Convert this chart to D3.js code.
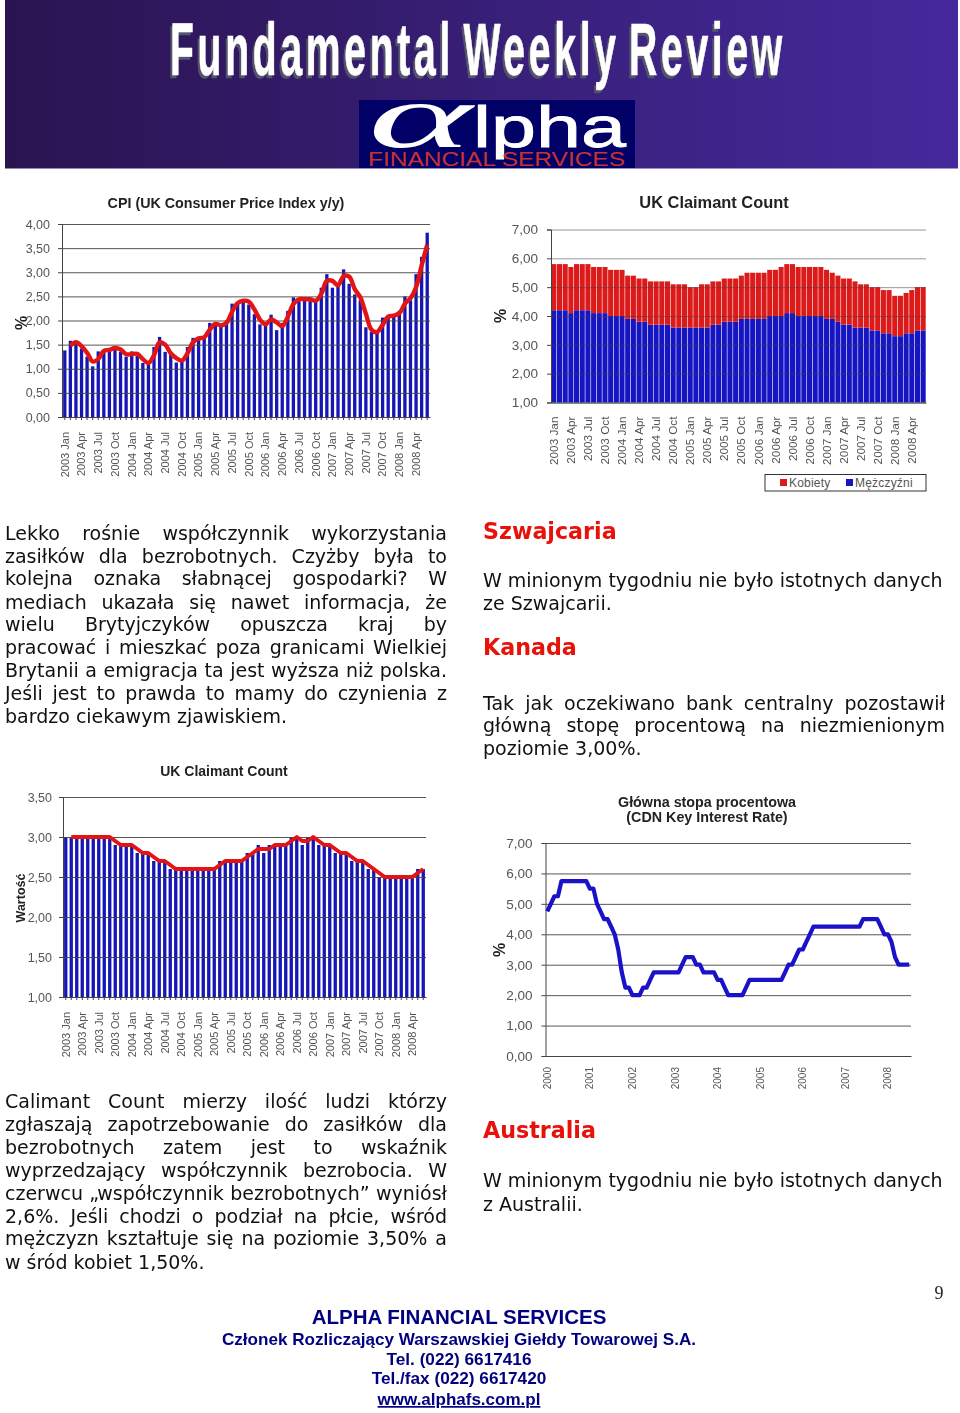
<!DOCTYPE html>
<html>
<head>
<meta charset="utf-8">
<script src="https://d3js.org/d3.v7.min.js"></script>
<style>
  body { margin: 0; background: #fff; }
  svg { display: block; }
  .tick text { font-family: "Liberation Sans", Arial, sans-serif; fill: #555; }
  .body-text { font-family: "DejaVu Sans", Verdana, sans-serif; font-size: 19px; fill: #111; }
  .heading { font-family: "DejaVu Sans", Verdana, sans-serif; font-size: 22.2px; font-weight: bold; fill: #e8120a; }
  .chart-title { font-family: "Liberation Sans", Arial, sans-serif; font-size: 14.3px; font-weight: bold; fill: #222; text-anchor: middle; }
  .axis-title { font-family: "Liberation Sans", Arial, sans-serif; font-size: 16px; font-weight: bold; fill: #222; text-anchor: middle; }
  .chart { filter: blur(0.5px); }
  .footer { font-family: "Liberation Sans", Arial, sans-serif; font-weight: bold; fill: #000080; text-anchor: middle; }
</style>
</head>
<body>
<div id="page"></div>
<script>
// Quarterly labels shared by the three monthly charts
const quarterLabels = ['2003 Jan','2003 Apr','2003 Jul','2003 Oct','2004 Jan','2004 Apr','2004 Jul','2004 Oct',
  '2005 Jan','2005 Apr','2005 Jul','2005 Oct','2006 Jan','2006 Apr','2006 Jul','2006 Oct',
  '2007 Jan','2007 Apr','2007 Jul','2007 Oct','2008 Jan','2008 Apr'];
const yearLabels = ['2000','2001','2002','2003','2004','2005','2006','2007','2008'];

// CPI y/y, bars and the red average line (line starts at the 2nd month)
const cpiBars = [1.38,1.58,1.52,1.42,1.25,1.05,1.36,1.38,1.40,1.46,1.35,1.25,
  1.36,1.27,1.12,1.12,1.45,1.66,1.35,1.30,1.13,1.20,1.45,1.64,
  1.62,1.67,1.95,1.90,1.90,2.00,2.35,2.38,2.44,2.33,2.13,1.92,
  1.92,2.12,1.80,1.95,2.20,2.48,2.40,2.48,2.40,2.42,2.68,2.96,
  2.68,2.78,3.06,2.76,2.54,2.42,1.86,1.76,1.76,2.06,2.10,2.10,
  2.20,2.50,2.42,2.96,3.32,3.82];
const cpiLine = [1.48,1.55,1.47,1.33,1.15,1.20,1.37,1.39,1.43,1.40,1.30,1.30,1.31,1.20,1.12,
  1.28,1.55,1.50,1.32,1.22,1.17,1.32,1.55,1.63,1.65,1.81,1.93,1.90,1.95,2.18,
  2.36,2.41,2.39,2.23,2.02,1.92,2.02,1.96,1.88,2.08,2.34,2.44,2.44,2.44,2.41,
  2.55,2.82,2.82,2.73,2.92,2.91,2.65,2.48,2.14,1.81,1.76,1.91,2.08,2.10,
  2.15,2.35,2.46,2.69,3.14,3.57];

// Claimant count by sex (stacked)
const menValues = [4.2,4.2,4.2,4.1,4.2,4.2,4.2,4.1,4.1,4.1,4.0,4.0,
  4.0,3.9,3.9,3.8,3.8,3.7,3.7,3.7,3.7,3.6,3.6,3.6,
  3.6,3.6,3.6,3.6,3.7,3.7,3.8,3.8,3.8,3.9,3.9,3.9,
  3.9,3.9,4.0,4.0,4.0,4.1,4.1,4.0,4.0,4.0,4.0,4.0,
  3.9,3.9,3.8,3.7,3.7,3.6,3.6,3.6,3.5,3.5,3.4,3.4,
  3.3,3.3,3.4,3.4,3.5,3.5];
const womenValues = [1.6,1.6,1.6,1.6,1.6,1.6,1.6,1.6,1.6,1.6,1.6,1.6,
  1.6,1.5,1.5,1.5,1.5,1.5,1.5,1.5,1.5,1.5,1.5,1.5,
  1.4,1.4,1.5,1.5,1.5,1.5,1.5,1.5,1.5,1.5,1.6,1.6,
  1.6,1.6,1.6,1.6,1.7,1.7,1.7,1.7,1.7,1.7,1.7,1.7,
  1.7,1.6,1.6,1.6,1.6,1.6,1.5,1.5,1.5,1.5,1.5,1.5,
  1.4,1.4,1.4,1.5,1.5,1.5];

// Claimant count, total
const claimantBars = [3,3,3,3,3,3,3,3,3,2.9,2.9,2.9,
  2.9,2.8,2.8,2.8,2.7,2.7,2.7,2.6,2.6,2.6,2.6,2.6,
  2.6,2.6,2.6,2.6,2.7,2.7,2.7,2.7,2.7,2.8,2.8,2.9,
  2.8,2.9,2.9,2.9,2.9,3,3,2.9,3,3,2.9,2.9,
  2.9,2.8,2.8,2.8,2.7,2.7,2.7,2.6,2.6,2.5,2.5,2.5,
  2.5,2.5,2.5,2.5,2.6,2.6];
const claimantLine = [3,3,3,3,3,3,3,3,2.95,2.9,2.9,2.9,2.85,2.8,2.8,2.75,2.7,2.7,2.65,2.6,2.6,2.6,2.6,
  2.6,2.6,2.6,2.6,2.65,2.7,2.7,2.7,2.7,2.75,2.8,2.85,2.85,2.85,2.9,2.9,2.9,2.95,3,2.95,2.95,3,2.95,2.9,
  2.9,2.85,2.8,2.8,2.75,2.7,2.7,2.65,2.6,2.55,2.5,2.5,2.5,2.5,2.5,2.5,2.55,2.6];

// Canadian key rate, monthly from 2000
const cdnRate = [4.75,5,5.25,5.25,5.75,5.75,5.75,5.75,5.75,5.75,5.75,5.75,
  5.5,5.5,5,4.75,4.5,4.5,4.25,4,3.5,2.75,2.25,2.25,
  2,2,2,2.25,2.25,2.5,2.75,2.75,2.75,2.75,2.75,2.75,
  2.75,2.75,3,3.25,3.25,3.25,3,3,2.75,2.75,2.75,2.75,
  2.5,2.5,2.25,2,2,2,2,2,2.25,2.5,2.5,2.5,
  2.5,2.5,2.5,2.5,2.5,2.5,2.5,2.75,3,3,3.25,3.5,
  3.5,3.75,4,4.25,4.25,4.25,4.25,4.25,4.25,4.25,4.25,4.25,
  4.25,4.25,4.25,4.25,4.25,4.5,4.5,4.5,4.5,4.5,4.25,4,
  4,3.75,3.25,3,3,3,3];

const leftText1 = ['Lekko rośnie współczynnik wykorzystania','zasiłków dla bezrobotnych. Czyżby była to',
  'kolejna oznaka słabnącej gospodarki? W','mediach ukazała się nawet informacja, że',
  'wielu Brytyjczyków opuszcza kraj by','pracować i mieszkać poza granicami Wielkiej',
  'Brytanii a emigracja ta jest wyższa niż polska.','Jeśli jest to prawda to mamy do czynienia z',
  'bardzo ciekawym zjawiskiem.'];
const leftText1Y = [540,563,585,609,631,654,677,700,723];
const leftText2 = ['Calimant Count mierzy ilość ludzi którzy','zgłaszają zapotrzebowanie do zasiłków dla',
  'bezrobotnych zatem jest to wskaźnik','wyprzedzający współczynnik bezrobocia. W',
  'czerwcu „współczynnik bezrobotnych” wyniósł','2,6%. Jeśli chodzi o podział na płcie, wśród',
  'mężczyzn kształtuje się na poziomie 3,50% a','w śród kobiet 1,50%.'];
const leftText2Y = [1108,1131,1154,1177,1200,1223,1245,1269];

const svg = d3.select('#page').append('svg').attr('width', 960).attr('height', 1413);
const months = n => d3.range(n);
const comma = d => d3.format('.2f')(d).replace('.', ',');

// ---- Header ----
const grad = svg.append('defs').append('linearGradient').attr('id', 'headerGrad');
grad.append('stop').attr('offset', '0%').attr('stop-color', '#2a1450');
grad.append('stop').attr('offset', '100%').attr('stop-color', '#45299c');
svg.append('rect').attr('x', 5).attr('y', 0).attr('width', 953).attr('height', 168.5).attr('fill', 'url(#headerGrad)');

function headerTitle(dx, dy, color) {
  svg.append('text').attr('x', 170 + dx).attr('y', 75 + dy)
    .attr('textLength', 616).attr('lengthAdjust', 'spacingAndGlyphs')
    .style('font-family', '"Liberation Sans", Arial, sans-serif').style('font-weight', 'bold')
    .style('font-size', '74px').style('letter-spacing', '7px').style('word-spacing', '-10px')
    .attr('fill', color).attr('stroke', color).attr('stroke-width', 0.7)
    .text('Fundamental Weekly Review');
}
headerTitle(-2, 3, '#55556a');
headerTitle(0, 0, '#fff');

svg.append('rect').attr('x', 359).attr('y', 100).attr('width', 276).attr('height', 68).attr('fill', '#000066');
svg.append('text').attr('transform', 'translate(368,147) scale(2.15,1)').attr('fill', '#fff')
  .style('font-family', '"Liberation Serif", serif').style('font-style', 'italic').style('font-size', '92px').text('α');
svg.append('text').attr('x', 473).attr('y', 147).attr('fill', '#fff').attr('stroke', '#fff').attr('stroke-width', 0.8)
  .attr('textLength', 153).attr('lengthAdjust', 'spacingAndGlyphs')
  .style('font-family', '"Liberation Sans", Arial, sans-serif').style('font-size', '58px').text('lpha');
svg.append('text').attr('x', 368).attr('y', 166).attr('fill', '#c83232').attr('textLength', 257).attr('lengthAdjust', 'spacingAndGlyphs')
  .style('font-family', '"Liberation Sans", Arial, sans-serif').style('font-size', '19.5px').text('FINANCIAL SERVICES');

// ---- Chart helpers ----
function makeFrame(cfg) {
  const g = svg.append('g').attr('class', 'chart');
  const x = d3.scaleBand().domain(months(cfg.count)).range([cfg.x0, cfg.x1]);
  const y = d3.scaleLinear().domain(cfg.yDomain).range([cfg.y0, cfg.y1]);
  g.append('g').attr('class', 'marks');

  const grid = g.append('g').attr('transform', `translate(${cfg.x0},0)`)
    .call(d3.axisLeft(y).tickValues(cfg.yTicks).tickSize(-(cfg.x1 - cfg.x0)).tickFormat(''));
  grid.selectAll('line').attr('stroke', '#444').attr('stroke-opacity', cfg.gridOpacity || 0.9);
  grid.select('.domain').remove();

  const yAxis = g.append('g').attr('transform', `translate(${cfg.x0},0)`)
    .call(d3.axisLeft(y).tickValues(cfg.yTicks).tickSize(4).tickPadding(cfg.yPad || 8).tickFormat(comma));
  yAxis.selectAll('text').style('font-size', cfg.ySize || '12.5px');
  yAxis.selectAll('line').attr('stroke', '#444');
  yAxis.select('.domain').attr('stroke', '#444');

  const xAxis = g.append('g').attr('transform', `translate(0,${cfg.y0})`)
    .call(d3.axisBottom(x).tickSize(cfg.xTickSize).tickSizeOuter(0)
      .tickFormat((d, i) => i % cfg.labelEvery === 0 ? cfg.labels[i / cfg.labelEvery] : ''));
  xAxis.selectAll('text')
    .attr('transform', `rotate(-90)`)
    .attr('x', -cfg.labelGap).attr('y', 0).attr('dy', '0.35em')
    .attr('text-anchor', 'end').style('font-size', cfg.labelSize);
  xAxis.selectAll('line').attr('stroke', '#444');
  xAxis.select('.domain').attr('stroke', '#444');

  const title = g.append('text').attr('class', 'chart-title').attr('x', cfg.titleX).attr('y', cfg.titleY).text(cfg.title);
  if (cfg.titleSize) title.style('font-size', cfg.titleSize);
  if (cfg.title2) g.append('text').attr('class', 'chart-title').attr('x', cfg.titleX).attr('y', cfg.titleY + 15).text(cfg.title2);
  g.append('text').attr('class', 'axis-title')
    .attr('transform', `translate(${cfg.axisX},${cfg.axisY}) rotate(-90)`).text(cfg.axisTitle);
  return { g, marks: g.select('.marks'), x, y };
}

function drawBars(f, values, color, barW) {
  f.marks.selectAll(null).data(values).enter().append('rect')
    .attr('x', (d, i) => f.x(i) + (f.x.bandwidth() - barW) / 2)
    .attr('width', barW)
    .attr('y', d => f.y(d))
    .attr('height', d => f.y.range()[0] - f.y(d))
    .attr('fill', color);
}

function drawLine(f, values, offset, color, width, curve) {
  const line = d3.line()
    .x((d, i) => f.x(i + offset) + f.x.bandwidth() / 2)
    .y(d => f.y(d))
    .curve(curve);
  f.g.append('path').datum(values).attr('d', line)
    .attr('fill', 'none').attr('stroke', color).attr('stroke-width', width).attr('stroke-linejoin', 'round');
}

// ---- CPI ----
const cpi = makeFrame({
  count: cpiBars.length, x0: 62, x1: 430, y0: 417, y1: 224, yDomain: [0, 4],
  yTicks: [0, .5, 1, 1.5, 2, 2.5, 3, 3.5, 4], labels: quarterLabels, labelEvery: 3, labelGap: 15,
  labelSize: '11px', xTickSize: 3, title: 'CPI (UK Consumer Price Index y/y)', titleX: 226, titleY: 208,
  axisTitle: '%', axisX: 27, axisY: 323
});
drawBars(cpi, cpiBars, '#1616b4', 3.3);
drawLine(cpi, cpiLine, 1, '#e21414', 4.4, d3.curveCatmullRom);

// ---- Claimant by sex ----
const stackRows = months(menValues.length).map(i => ({ men: menValues[i], women: womenValues[i] }));
const stacked = d3.stack().keys(['men', 'women'])(stackRows);
const sex = makeFrame({
  count: menValues.length, x0: 551, x1: 926, y0: 402.5, y1: 229.5, yDomain: [1, 7],
  yTicks: [1, 2, 3, 4, 5, 6, 7], labels: quarterLabels, labelEvery: 3, labelGap: 14,
  labelSize: '11.8px', xTickSize: 0, title: 'UK Claimant Count', titleX: 714, titleY: 208, titleSize: '16.4px',
  axisTitle: '%', axisX: 506, axisY: 316, gridOpacity: 0.55, ySize: '13.5px', yPad: 9
});
[['#1515c4', stacked[0]], ['#dd1a1a', stacked[1]]].forEach(([color, layer]) => {
  sex.marks.selectAll(null).data(layer).enter().append('rect')
    .attr('x', (d, i) => sex.x(i) + 0.3)
    .attr('width', sex.x.bandwidth() - 0.6)
    .attr('y', d => sex.y(d[1]))
    .attr('height', d => sex.y(Math.max(d[0], 1)) - sex.y(d[1]))
    .attr('fill', color);
});
const legend = sex.g.append('g');
legend.append('rect').attr('x', 765).attr('y', 474.5).attr('width', 161).attr('height', 16.5)
  .attr('fill', '#fff').attr('stroke', '#333').attr('stroke-width', 1);
[['Kobiety', '#dd1a1a', 780], ['Mężczyźni', '#1515c4', 846]].forEach(([name, color, lx]) => {
  legend.append('rect').attr('x', lx).attr('y', 479).attr('width', 7).attr('height', 7).attr('fill', color);
  legend.append('text').attr('x', lx + 9).attr('y', 487).attr('fill', '#555')
    .style('font-family', '"Liberation Sans", Arial, sans-serif').style('font-size', '12px').style('letter-spacing', '.2px').text(name);
});

// ---- Claimant total ----
const claimant = makeFrame({
  count: claimantBars.length, x0: 63, x1: 426, y0: 997, y1: 797, yDomain: [1, 3.5],
  yTicks: [1, 1.5, 2, 2.5, 3, 3.5], labels: quarterLabels, labelEvery: 3, labelGap: 15,
  labelSize: '11px', xTickSize: 3, title: 'UK Claimant Count', titleX: 224, titleY: 776, titleSize: '14px',
  axisTitle: 'Wartość', axisX: 25, axisY: 898, yPad: 7
});
claimant.g.selectAll('.axis-title').style('font-size', '12.5px');
drawBars(claimant, claimantBars, '#1616b4', 3.3);
drawLine(claimant, claimantLine, 1, '#e21414', 4, d3.curveLinear);

// ---- CDN rate ----
const cdn = makeFrame({
  count: cdnRate.length, x0: 545.5, x1: 911, y0: 1056, y1: 843, yDomain: [0, 7],
  yTicks: [0, 1, 2, 3, 4, 5, 6, 7], labels: yearLabels, labelEvery: 12, labelGap: 11,
  labelSize: '10px', xTickSize: 0, title: 'Główna stopa procentowa', title2: '(CDN Key Interest Rate)',
  titleX: 707, titleY: 807, axisTitle: '%', axisX: 505, axisY: 950, ySize: '13.5px', yPad: 9
});
drawLine(cdn, cdnRate, 0, '#1a12c8', 4.2, d3.curveLinear);

// ---- Body text ----
function textBlock(lines, ys, x, width, justifyLast) {
  lines.forEach((line, i) => {
    const t = svg.append('text').attr('class', 'body-text').attr('x', x).attr('y', ys[i]).text(line);
    if (width && (i < lines.length - 1 || justifyLast)) {
      const gaps = line.split(' ').length - 1;
      const extra = (width - t.node().getComputedTextLength()) / gaps;
      t.style('word-spacing', extra + 'px');
    }
  });
}
textBlock(leftText1, leftText1Y, 5, 442);
textBlock(leftText2, leftText2Y, 5, 442);
textBlock(['W minionym tygodniu nie było istotnych danych', 'ze Szwajcarii.'], [587, 610], 483);
textBlock(['Tak jak oczekiwano bank centralny pozostawił', 'główną stopę procentową na niezmienionym', 'poziomie 3,00%.'], [710, 732, 755], 483, 462);
textBlock(['W minionym tygodniu nie było istotnych danych', 'z Australii.'], [1187, 1211], 483);
[['Szwajcaria', 539], ['Kanada', 655], ['Australia', 1138]].forEach(([name, y]) => {
  svg.append('text').attr('class', 'heading').attr('x', 483).attr('y', y).text(name);
});

// ---- Footer ----
svg.append('text').attr('x', 939).attr('y', 1299).attr('text-anchor', 'middle').attr('fill', '#222')
  .style('font-family', '"Liberation Serif", serif').style('font-size', '18px').text('9');
[['ALPHA FINANCIAL SERVICES', 1324, 20.5, false], ['Członek Rozliczający Warszawskiej Giełdy Towarowej S.A.', 1345, 17.1, false],
 ['Tel. (022) 6617416', 1365, 17.2, false], ['Tel./fax (022) 6617420', 1384, 17.2, false], ['www.alphafs.com.pl', 1405, 17, true]]
  .forEach(([label, y, size, link]) => {
    svg.append('text').attr('class', 'footer').attr('x', 459).attr('y', y).style('font-size', size + 'px')
      .style('text-decoration', link ? 'underline' : 'none').text(label);
  });
</script>
</body>
</html>
